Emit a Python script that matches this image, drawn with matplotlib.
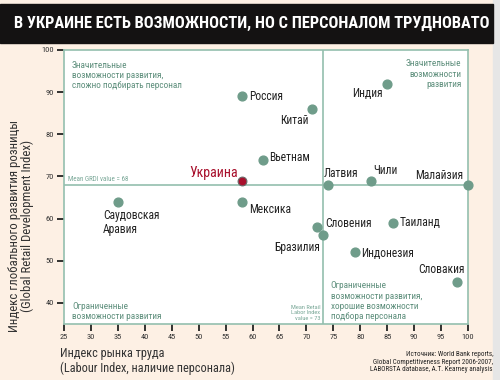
import matplotlib.pyplot as plt
from matplotlib.patches import Rectangle

plt.rcParams['font.family'] = ['Roboto Condensed', 'Liberation Sans Narrow', 'Liberation Sans',
                               'DejaVu Sans']

countries = ['Россия', 'Китай', 'Вьетнам', 'Индия', 'Латвия', 'Чили', 'Малайзия',
             'Саудовская\nАравия', 'Мексика', 'Словения', 'Бразилия', 'Таиланд',
             'Индонезия', 'Словакия']
labour = [58, 71, 62, 85, 74, 82, 100, 35, 58, 72, 73, 86, 79, 98]
grdi = [89, 86, 74, 92, 68, 69, 68, 64, 64, 58, 56, 59, 52, 45]

ukraine_labour = 58
ukraine_grdi = 69

mean_labour = 73
mean_grdi = 68

# label offsets in pixels (dx, dy, ha)
offsets = {
    'Россия': (7, 0, 'left'),
    'Китай': (-3, -11, 'right'),
    'Вьетнам': (6, 2, 'left'),
    'Индия': (-4, -10, 'right'),
    'Латвия': (-4, 11, 'left'),
    'Чили': (2, 10, 'left'),
    'Малайзия': (-5, 9, 'right'),
    'Саудовская\nАравия': (-15, -21, 'left'),
    'Мексика': (7, -8, 'left'),
    'Словения': (8, 4, 'left'),
    'Бразилия': (-3, -12, 'right'),
    'Таиланд': (7, 0, 'left'),
    'Индонезия': (6, -1, 'left'),
    'Словакия': (8, 12, 'right'),
}

bg = '#fdf0e4'
green = '#6f9c8a'
line_c = '#94bfae'
txt_green = '#5e8f7c'

fig = plt.figure(figsize=(5, 3.8), dpi=100, facecolor=bg)
fig.patches.append(Rectangle((493 / 500, 0), 7 / 500, 1, transform=fig.transFigure,
                             color='#e6e6e6', zorder=0))
fig.patches.append(Rectangle((0, (380 - 43) / 380), 493 / 500, 39 / 380,
                             transform=fig.transFigure, color='#141212', zorder=1))
fig.text(252 / 500, (380 - 23) / 380, 'В УКРАИНЕ ЕСТЬ ВОЗМОЖНОСТИ, НО С ПЕРСОНАЛОМ ТРУДНОВАТО',
         color='white', fontsize=11.8, fontweight='bold', ha='center', va='center')

ax = fig.add_axes([64 / 500, 56 / 380, 404 / 500, 274 / 380])
ax.set_facecolor('white')
ax.set_xlim(25, 100)
ax.set_ylim(35, 100)
for s in ax.spines.values():
    s.set_color(line_c)
    s.set_linewidth(1.2)
ax.axvline(mean_labour, color=line_c, lw=1.2, zorder=1)
ax.axhline(mean_grdi, color=line_c, lw=1.2, zorder=1)

ax.set_xticks(range(25, 101, 5))
ax.set_yticks(range(40, 101, 10))
ax.tick_params(direction='out', length=5, width=1.3, color='#222222',
               labelsize=6, labelcolor='#333333', pad=2)

ax.scatter(labour, grdi, s=40, color=green, zorder=3, clip_on=False)
ax.scatter([ukraine_labour], [ukraine_grdi], s=40, color='#a8102c', edgecolor='#6a6a6a',
           linewidth=0.8, zorder=3)

for name, x, y in zip(countries, labour, grdi):
    dx, dy, ha = offsets[name]
    ax.annotate(name, (x, y), xytext=(dx, dy), textcoords='offset pixels',
                ha=ha, va='center', fontsize=8.3, color='#222222', linespacing=1.1)
ax.annotate('Украина', (ukraine_labour, ukraine_grdi), xytext=(-4, 8),
            textcoords='offset pixels', ha='right', va='center', fontsize=10,
            color='#a8102c')

ax.text(26.5, 97.5, 'Значительные\nвозможности развития,\nсложно подбирать персонал',
        fontsize=6.7, color=txt_green, va='top', ha='left', linespacing=1.2)
ax.text(98.8, 97.8, 'Значительные\nвозможности\nразвития',
        fontsize=6.7, color=txt_green, va='top', ha='right', linespacing=1.2)
ax.text(26.5, 35.6, 'Ограниченные\nвозможности развития',
        fontsize=6.7, color=txt_green, va='bottom', ha='left', linespacing=1.2)
ax.text(74.5, 35.6, 'Ограниченные\nвозможности развития,\nхорошие возможности\nподбора персонала',
        fontsize=6.7, color=txt_green, va='bottom', ha='left', linespacing=1.2)
ax.text(25.8, 68.4, 'Mean GRDI value = 68', fontsize=5, color='#7aa898',
        va='bottom', ha='left')
ax.text(72.6, 35.8, 'Mean Retail\nLabor Index\nvalue = 73', fontsize=4.6, color='#7aa898',
        va='bottom', ha='right', linespacing=1.1)

fig.text(21 / 500, (380 - 226) / 380,
         'Индекс глобального развития розницы\n(Global Retail Development Index)',
         rotation=90, ha='center', va='center', fontsize=9.3, color='#333333',
         linespacing=1.05)
fig.text(60 / 500, (380 - 361) / 380, 'Индекс рынка труда\n(Labour Index, наличие персонала)',
         ha='left', va='center', fontsize=8.8, color='#333333', linespacing=1.15)
fig.text(493 / 500, (380 - 362) / 380,
         'Источник: World Bank reports,\nGlobal Competitiveness Report 2006-2007,\n'
         'LABORSTA database, A.T. Kearney analysis',
         ha='right', va='center', fontsize=5.1, color='#222222', linespacing=1.1)

fig.savefig('out.png', dpi=100, facecolor=bg)
